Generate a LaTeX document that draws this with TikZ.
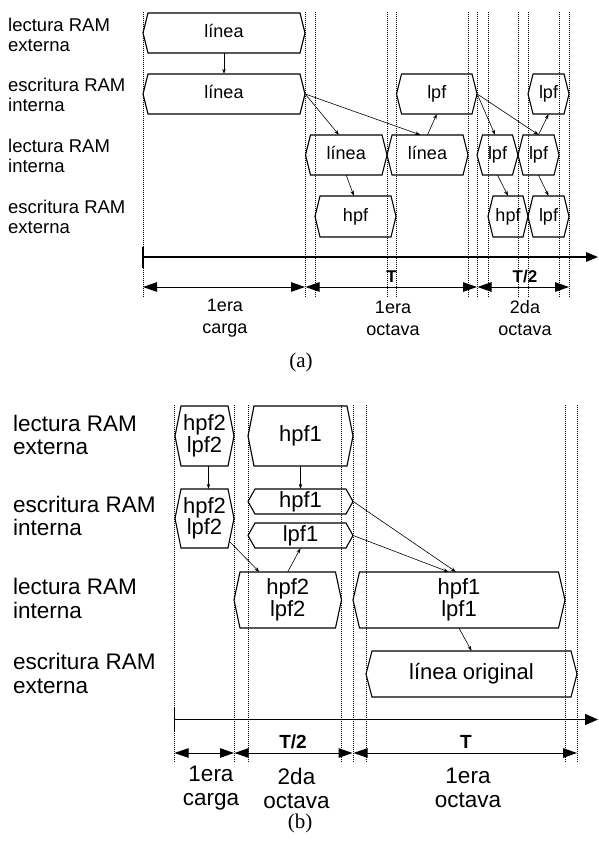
\documentclass[tikz,border=0pt]{standalone}
\usepackage{fontspec}
\setmainfont{Liberation Sans}
\newfontfamily\capfont{Liberation Serif}
\usetikzlibrary{arrows.meta,calc}
\newcommand{\myhex}[8][]{%
  \draw[hexline] (#3,{(#5+#6)/2}) -- ({#3+#7},#5) -- ({#4-#7},#5) -- (#4,{(#5+#6)/2}) -- ({#4-#7},#6) -- ({#3+#7},#6) -- cycle;
  \node[hexnode,#1,minimum width={(#4-#3)*1pt},minimum height={(#6-#5)*1pt}] (#2) at ({(#3+#4)/2},{(#5+#6)/2}) {#8};
}
\begin{document}
\begin{tikzpicture}[x=1pt,y=-1pt,
  hexline/.style={line width=1.1pt, line join=miter},
  hexnode/.style={rectangle, inner sep=0pt, draw=none},
  fa/.style={font=\fontsize{18}{20}\selectfont, text height=13pt, text depth=3.8pt},
  fb/.style={font=\fontsize{22}{21.5}\selectfont, align=center},
  fbone/.style={font=\fontsize{22}{21.5}\selectfont, text height=15.8pt, text depth=4.6pt},
  lbla/.style={anchor=west, align=left, inner sep=0pt, font=\fontsize{18.5}{20.5}\selectfont},
  lblb/.style={anchor=west, align=left, inner sep=0pt, font=\fontsize{22.5}{23.5}\selectfont},
  dla/.style={align=center, inner sep=0pt, font=\fontsize{18}{22}\selectfont},
  dlb/.style={align=center, inner sep=0pt, font=\fontsize{22.5}{24}\selectfont},
  ta/.style={inner sep=0pt, font=\fontsize{17}{19}\selectfont\bfseries},
  tb/.style={inner sep=0pt, font=\fontsize{19}{21}\selectfont\bfseries},
  capt/.style={inner sep=0pt, font=\fontsize{21}{23}\selectfont\capfont},
  vline/.style={line width=0.5pt, dash pattern=on 1pt off 1pt},
  conn/.style={-{Stealth[length=5pt,width=3.6pt]}, line width=0.6pt},
  dimarr/.style={{Triangle[length=14pt,width=9.5pt]}-{Triangle[length=14pt,width=9.5pt]}, line width=1pt},
  axisa/.style={-{Triangle[length=12pt,width=9.5pt]}, line width=1.5pt},
  axisb/.style={-{Triangle[length=13pt,width=11pt]}, line width=1.6pt},
  tick/.style={line width=1.8pt},
]
\useasboundingbox (0,0) rectangle (598,843);

% ---------------- (a) ----------------
\foreach \xx in {143,305.5,315,387,396,468,477,488,518,528,559,569}
  \draw[vline] (\xx,12) -- (\xx,297);

\node[lbla] (la1) at (8,35) {lectura RAM\\externa};
\node[lbla] (la2) at (8,95) {escritura RAM\\interna};
\node[lbla] (la3) at (8,156) {lectura RAM\\interna};
\node[lbla] (la4) at (8,217) {escritura RAM\\externa};

\myhex[fa]{A1}{143}{305}{13}{53}{5}{línea}
\myhex[fa]{A2}{143}{305}{74}{114}{5}{línea}
\myhex[fa]{A3}{396.5}{477}{74}{114}{5}{lpf}
\myhex[fa]{A4}{528}{569}{74}{114}{5}{lpf}
\myhex[fa]{B1}{305.5}{387}{135}{175}{5}{línea}
\myhex[fa]{B2}{387}{468}{135}{175}{5}{línea}
\myhex[fa]{B3}{477}{518}{135}{175}{5.5}{lpf}
\myhex[fa]{B4}{518}{559}{135}{175}{5}{lpf}
\myhex[fa]{C1}{315}{396}{196}{237}{5}{hpf}
\myhex[fa]{C2}{488}{528}{196}{237}{5}{hpf}
\myhex[fa]{C3}{528}{569}{196}{237}{5}{lpf}

\draw[conn] (A1.south) -- (A2.north);
\draw[conn] (A2.east) -- ($(B1.north west)!0.41!(B1.north east)$);
\draw[conn] (A2.east) -- ($(B2.north west)!0.41!(B2.north east)$);
\draw[conn] (B1.south) -- ($(C1.north west)!0.48!(C1.north east)$);
\draw[conn] (B2.north) -- (A3.south);
\draw[conn] (A3.east) -- ($(B3.north west)!0.44!(B3.north east)$);
\draw[conn] (A3.east) -- (B4.north);
\draw[conn] (B3.south) -- (C2.north);
\draw[conn] (B4.north) -- (A4.south);
\draw[conn] (B4.south) -- (C3.north);

\coordinate (ax0) at (143,257);
\coordinate (ax1) at (598,257);
\draw[axisa] (ax0) -- (ax1);
\draw[tick] (143,246.5) -- (143,267.5);

\coordinate (da0) at (143,287);
\coordinate (da1) at (305,287);
\coordinate (da2) at (305.5,287);
\coordinate (da3) at (477,287);
\coordinate (da4) at (477.5,287);
\coordinate (da5) at (569,287);
\draw[dimarr] (da0) -- (da1);
\draw[dimarr] (da2) -- (da3);
\draw[dimarr] (da4) -- (da5);

\node[ta] (ta1) at (391.5,277) {T};
\node[ta] (ta2) at (525,277) {T/2};
\node[dla] (dla1) at (225,318) {1era\\carga};
\node[dla] (dla2) at (393,318) {1era\\octava};
\node[dla] (dla3) at (525,318) {2da\\octava};
\node[capt] (capa) at (301,362) {(a)};

% ---------------- (b) ----------------
\foreach \xx in {174.5,234,248,341,353,366,565,577}
  \draw[vline] (\xx,405) -- (\xx,763);

\node[lblb] (lb1) at (13,435) {lectura RAM\\externa};
\node[lblb] (lb2) at (13,515.8) {escritura RAM\\interna};
\node[lblb] (lb3) at (13,598.3) {lectura RAM\\interna};
\node[lblb] (lb4) at (13,673.3) {escritura RAM\\externa};

\myhex[fb]{P1}{175}{234}{406}{466}{6}{hpf2\\lpf2}
\myhex[fbone]{P2}{248}{353}{406}{466}{6}{hpf1}
\myhex[fb]{Q1}{175}{234}{489}{548}{6}{hpf2\\lpf2}
\myhex[fbone]{Q2}{248}{353}{489}{514}{7}{hpf1}
\myhex[fbone]{Q3}{248}{353}{523}{548}{7}{lpf1}
\myhex[fb]{R1}{234}{341.5}{572}{628}{6}{hpf2\\lpf2}
\myhex[fb]{R2}{353}{565}{572}{628}{6.5}{hpf1\\lpf1}
\myhex[fbone]{S1}{366}{577}{651}{697}{6}{línea original}

\draw[conn] ($(P1.south)+(4,0)$) -- ($(Q1.north)+(4,0)$);
\draw[conn] (P2.south) -- (Q2.north);
\draw[conn] ($(Q1.south east)+(-4,-6)$) -- ($(R1.north west)!0.235!(R1.north east)$);
\draw[conn] (R1.north) -- (Q3.south);
\draw[conn] (Q2.east) -- ($(R2.north west)!0.485!(R2.north east)$);
\draw[conn] (Q3.east) -- ($(R2.north west)!0.45!(R2.north east)$);
\draw[conn] (R2.south) -- (S1.north);

\coordinate (bx0) at (174.5,719.5);
\coordinate (bx1) at (598,719.5);
\draw[axisb] (bx0) -- (bx1);
\draw[tick] (174.5,708) -- (174.5,731);

\coordinate (db0) at (174.5,753);
\coordinate (db1) at (234,753);
\coordinate (db2) at (234.5,753);
\coordinate (db3) at (352.5,753);
\coordinate (db4) at (353.5,753);
\coordinate (db5) at (577,753);
\draw[dimarr] (db0) -- (db1);
\draw[dimarr] (db2) -- (db3);
\draw[dimarr] (db4) -- (db5);

\node[tb] (tb1) at (293,741.7) {T/2};
\node[tb] (tb2) at (466,741.7) {T};
\node[dlb] (dlb1) at (211,788) {1era\\carga};
\node[dlb] (dlb2) at (296.5,788) {2da\\octava};
\node[dlb] (dlb3) at (468,788) {1era\\octava};
\node[capt] (capb) at (300,823) {(b)};
\end{tikzpicture}
\end{document}
